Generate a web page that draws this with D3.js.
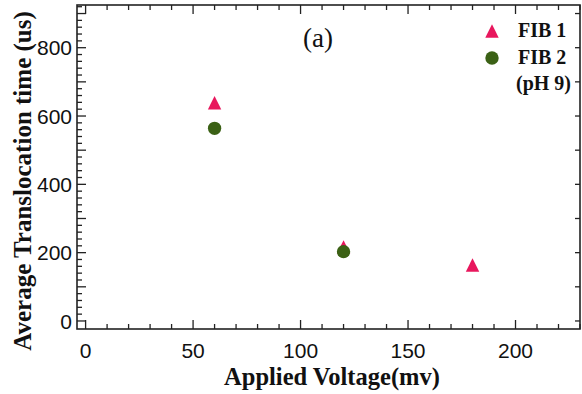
<!DOCTYPE html>
<html>
<head>
<meta charset="utf-8">
<script src="https://cdn.jsdelivr.net/npm/d3@7"></script>
<style>
  body { margin: 0; background: #fff; }
  svg { display: block; }
</style>
</head>
<body>
<script>
'use strict';

const width = 582;
const height = 394;

// data
const fib1Voltage = [60, 120, 180];
const fib1Time = [639, 217, 164];
const fib2Voltage = [60, 120];
const fib2Time = [564, 203];

const xTickValues = [0, 50, 100, 150, 200];
const yTickLabels = [0, 200, 400, 600, 800];
const legendLabels = ["FIB 1", "FIB 2", "(pH 9)"];

const pink = "#e8175d";
const green = "#3b6115";

const svg = d3.select("body")
    .append("svg")
    .attr("width", width)
    .attr("height", height);

svg.append("rect")
    .attr("width", width)
    .attr("height", height)
    .attr("fill", "#fff");

let x = d3.scaleLinear()
    .domain([-4, 230])
    .range([77, 580]);

let y = d3.scaleLinear()
    .domain([-23.5, 925])
    .range([329, 5]);

// triangle centred on its box, like the original markers
const boxTriangle = {
    draw(ctx, size) {
        let w = Math.sqrt(size);
        ctx.moveTo(0, -w / 2);
        ctx.lineTo(w / 2, w / 2);
        ctx.lineTo(-w / 2, w / 2);
        ctx.closePath();
    }
};
let tri = d3.symbol().type(boxTriangle).size(180);
let dot = d3.symbol().type(d3.symbolCircle).size(140);

// frame
svg.append("rect")
    .attr("x", x.range()[0])
    .attr("y", y.range()[1])
    .attr("width", x.range()[1] - x.range()[0])
    .attr("height", y.range()[0] - y.range()[1])
    .attr("fill", "none")
    .attr("stroke", "#222")
    .attr("stroke-width", 1.6);

let ticks = svg.append("g").attr("stroke", "#222").attr("stroke-width", 1.3);

let xMinor = d3.range(0, 231, 10);
// bottom and top, pointing inwards
ticks.selectAll(".xb")
    .data(xMinor)
    .enter()
    .append("line")
    .attr("x1", d => x(d))
    .attr("x2", d => x(d))
    .attr("y1", y.range()[0])
    .attr("y2", d => y.range()[0] - (d % 50 === 0 ? 9 : 5));
ticks.selectAll(".xt")
    .data(xMinor)
    .enter()
    .append("line")
    .attr("x1", d => x(d))
    .attr("x2", d => x(d))
    .attr("y1", y.range()[1])
    .attr("y2", d => y.range()[1] + (d % 50 === 0 ? 9 : 5));

let yMinor = d3.range(0, 921, 20);
ticks.selectAll(".yl")
    .data(yMinor)
    .enter()
    .append("line")
    .attr("y1", d => y(d))
    .attr("y2", d => y(d))
    .attr("x1", x.range()[0])
    .attr("x2", d => x.range()[0] + (d % 100 === 0 ? 9 : 5));
ticks.selectAll(".yr")
    .data(d3.range(0, 901, 100))
    .enter()
    .append("line")
    .attr("y1", d => y(d))
    .attr("y2", d => y(d))
    .attr("x1", x.range()[1])
    .attr("x2", x.range()[1] - 5);

// tick labels
svg.append("g")
    .selectAll("text")
    .data(xTickValues)
    .enter()
    .append("text")
    .attr("x", d => x(d))
    .attr("y", 358)
    .attr("text-anchor", "middle")
    .attr("font-family", "Liberation Sans, Arial, sans-serif")
    .attr("font-size", 21)
    .attr("fill", "#111")
    .text(d => d);

svg.append("g")
    .selectAll("text")
    .data(yTickLabels)
    .enter()
    .append("text")
    .attr("x", 72)
    .attr("y", d => y(d))
    .attr("dy", "0.36em")
    .attr("text-anchor", "end")
    .attr("font-family", "Liberation Sans, Arial, sans-serif")
    .attr("font-size", 21)
    .attr("fill", "#111")
    .text(d => d);

// axis titles
svg.append("text")
    .attr("x", 332)
    .attr("y", 385)
    .attr("text-anchor", "middle")
    .attr("font-family", "Liberation Serif, Times New Roman, serif")
    .attr("font-weight", "bold")
    .attr("font-size", 24.5)
    .attr("fill", "#111")
    .text("Applied Voltage(mv)");

svg.append("text")
    .attr("transform", "translate(31,181) rotate(-90)")
    .attr("text-anchor", "middle")
    .attr("font-family", "Liberation Serif, Times New Roman, serif")
    .attr("font-weight", "bold")
    .attr("font-size", 25)
    .attr("fill", "#111")
    .text("Average Translocation time (us)");

svg.append("text")
    .attr("x", 318)
    .attr("y", 47)
    .attr("text-anchor", "middle")
    .attr("font-family", "Liberation Serif, Times New Roman, serif")
    .attr("font-size", 27)
    .attr("fill", "#111")
    .text("(a)");

// points
let fib1 = fib1Voltage.map((v, i) => [v, fib1Time[i]]);
let fib2 = fib2Voltage.map((v, i) => [v, fib2Time[i]]);

svg.append("g")
    .selectAll("path")
    .data(fib1)
    .enter()
    .append("path")
    .attr("transform", d => `translate(${x(d[0])},${y(d[1])})`)
    .attr("d", tri)
    .attr("fill", pink);

svg.append("g")
    .selectAll("path")
    .data(fib2)
    .enter()
    .append("path")
    .attr("transform", d => `translate(${x(d[0])},${y(d[1])})`)
    .attr("d", dot)
    .attr("fill", green);

// legend
let legend = svg.append("g");
legend.append("path")
    .attr("transform", "translate(492,31)")
    .attr("d", tri)
    .attr("fill", pink);
legend.append("path")
    .attr("transform", "translate(492,58)")
    .attr("d", dot)
    .attr("fill", green);
legend.selectAll("text")
    .data(legendLabels)
    .enter()
    .append("text")
    .attr("x", (d, i) => i === 2 ? 516 : 518)
    .attr("y", (d, i) => 37 + i * 26.5)
    .attr("font-family", "Liberation Serif, Times New Roman, serif")
    .attr("font-weight", "bold")
    .attr("font-size", 20)
    .attr("fill", "#111")
    .text(d => d);
</script>
</body>
</html>
